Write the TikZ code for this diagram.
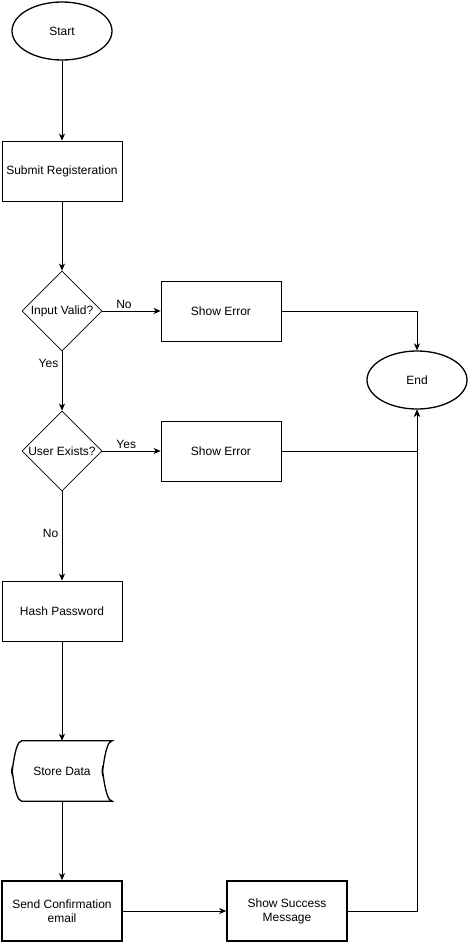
\documentclass[tikz,border=0pt]{standalone}
\usepackage{fontspec}
\setmainfont{Liberation Sans}
\usetikzlibrary{shapes.geometric,arrows.meta}
\begin{document}
\begin{tikzpicture}[x=1pt,y=-1pt,
    font=\fontsize{12}{14}\selectfont,
    >={Stealth[length=7pt,width=6pt,inset=2pt]},
    terminal/.style={draw,ellipse,line width=1.3pt,minimum width=100pt,minimum height=58pt,inner sep=0pt},
    process/.style={draw,line width=0.8pt,minimum width=120pt,minimum height=60pt,inner sep=0pt,align=center},
    boldprocess/.style={process,line width=1.6pt},
    decision/.style={draw,diamond,line width=0.8pt,minimum width=80pt,minimum height=80pt,inner sep=0pt},
    flow/.style={->,line width=0.8pt},
    lbl/.style={inner sep=2pt}]
  % page frame
  \useasboundingbox (0,0) rectangle (468,942);

  % main column
  \node[terminal] (start) at (62,31) {Start};
  \node[process] (submit) at (62,171) {Submit Registeration};
  \node[decision] (valid) at (62,311) {Input Valid?};
  \node[decision] (exists) at (62,451) {User Exists?};
  \node[process] (hash) at (62,611) {Hash Password};
  \node[minimum width=100pt,minimum height=60pt,inner sep=0pt] (store) at (62,771) {Store Data};
  \node[boldprocess] (mail) at (62,911) {Send Confirmation\\email};

  % right side
  \node[process] (err1) at (221,311) {Show Error};
  \node[process] (err2) at (221,451) {Show Error};
  \node[terminal] (end) at (417,380) {End};
  \node[boldprocess] (success) at (287,911) {Show Success\\Message};

  % stored data outline
  \draw[line width=1.3pt]
    ([xshift=10pt]store.north west) -- (store.north east)
    .. controls ([xshift=-8pt]store.north east) and ([shift={(-10pt,-11pt)}]store.east) .. ([xshift=-10pt]store.east)
    .. controls ([shift={(-10pt,11pt)}]store.east) and ([xshift=-8pt]store.south east) .. (store.south east)
    -- ([xshift=10pt]store.south west)
    .. controls ([xshift=2pt]store.south west) and ([yshift=11pt]store.west) .. (store.west)
    .. controls ([yshift=-11pt]store.west) and ([xshift=2pt]store.north west) .. ([xshift=10pt]store.north west) -- cycle;

  % connectors
  \draw[flow] (start) -- (submit);
  \draw[flow] (submit) -- (valid);
  \draw[flow] (valid) -- node[lbl,pos=0.37,above] {No} (err1);
  \draw[flow] (valid) -- node[pos=0.2,left] {Yes} (exists);
  \draw[flow] (exists) -- node[lbl,pos=0.41,above] {Yes} (err2);
  \draw[flow] (exists) -- node[pos=0.47,left] {No} (hash);
  \draw[flow] (hash) -- (store);
  \draw[flow] (store) -- (mail);
  \draw[flow] (mail) -- (success);
  \draw[flow] (err1.east) -| (end.north);
  \draw[flow] (err2.east) -| (end.south);
  \draw[flow] (success.east) -| (end.south);
\end{tikzpicture}
\end{document}
